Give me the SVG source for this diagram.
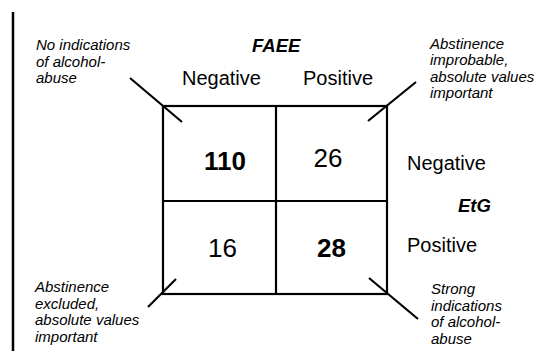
<svg xmlns="http://www.w3.org/2000/svg" width="544" height="351" viewBox="0 0 544 351">
<style>
text{font-family:"Liberation Sans",Arial,Helvetica,sans-serif;fill:#000}
.note{font-size:15px;font-style:italic}
.hdr{font-size:20px}
.title{font-size:18.5px;font-weight:bold;font-style:italic}
.num{font-size:26px;text-anchor:middle}
.b{font-weight:bold}
.ln{stroke:#000;stroke-width:2.2;fill:none}
</style>
<rect width="544" height="351" fill="#fff"/>
<line x1="13" y1="12" x2="13" y2="351" stroke="#000" stroke-width="2.5"/>
<g id="grid">
<rect class="ln" x="163" y="106" width="224" height="188"/>
<line class="ln" x1="276" y1="106" x2="276" y2="294"/>
<line class="ln" x1="163" y1="201" x2="387" y2="201"/>
</g>
<g id="cell-neg-neg"><text class="num b" x="225" y="170">110</text></g>
<g id="cell-neg-pos"><text class="num" x="328" y="167">26</text></g>
<g id="cell-pos-neg"><text class="num" x="222.5" y="257">16</text></g>
<g id="cell-pos-pos"><text class="num b" x="331.5" y="257">28</text></g>
<g id="faee">
<text class="title" x="252" y="52">FAEE</text>
<text class="hdr" x="182" y="85">Negative</text>
<text class="hdr" x="303" y="85">Positive</text>
</g>
<g id="etg">
<text class="hdr" x="407" y="170">Negative</text>
<text class="title" x="458" y="212">EtG</text>
<text class="hdr" x="407" y="252">Positive</text>
</g>
<g id="note-tl"><text class="note" x="36" y="50">No indications</text><text class="note" x="36" y="66.5">of alcohol-</text><text class="note" x="36" y="83">abuse</text></g>
<g id="note-tr"><text class="note" x="430" y="48.5">Abstinence</text><text class="note" x="430" y="65">improbable,</text><text class="note" x="430" y="81.5">absolute values</text><text class="note" x="430" y="98">important</text></g>
<g id="note-bl"><text class="note" x="35" y="292">Abstinence</text><text class="note" x="35" y="308.5">excluded,</text><text class="note" x="35" y="325">absolute values</text><text class="note" x="35" y="341.5">important</text></g>
<g id="note-br"><text class="note" x="431" y="294">Strong</text><text class="note" x="431" y="310.5">indications</text><text class="note" x="431" y="327">of alcohol-</text><text class="note" x="431" y="343.5">abuse</text></g>
<g id="connectors">
<line class="ln" x1="130" y1="78" x2="182" y2="122"/>
<line class="ln" x1="416" y1="82" x2="368" y2="121"/>
<line class="ln" x1="176" y1="279" x2="148" y2="307"/>
<line class="ln" x1="369" y1="278" x2="418" y2="319"/>
</g>
</svg>
